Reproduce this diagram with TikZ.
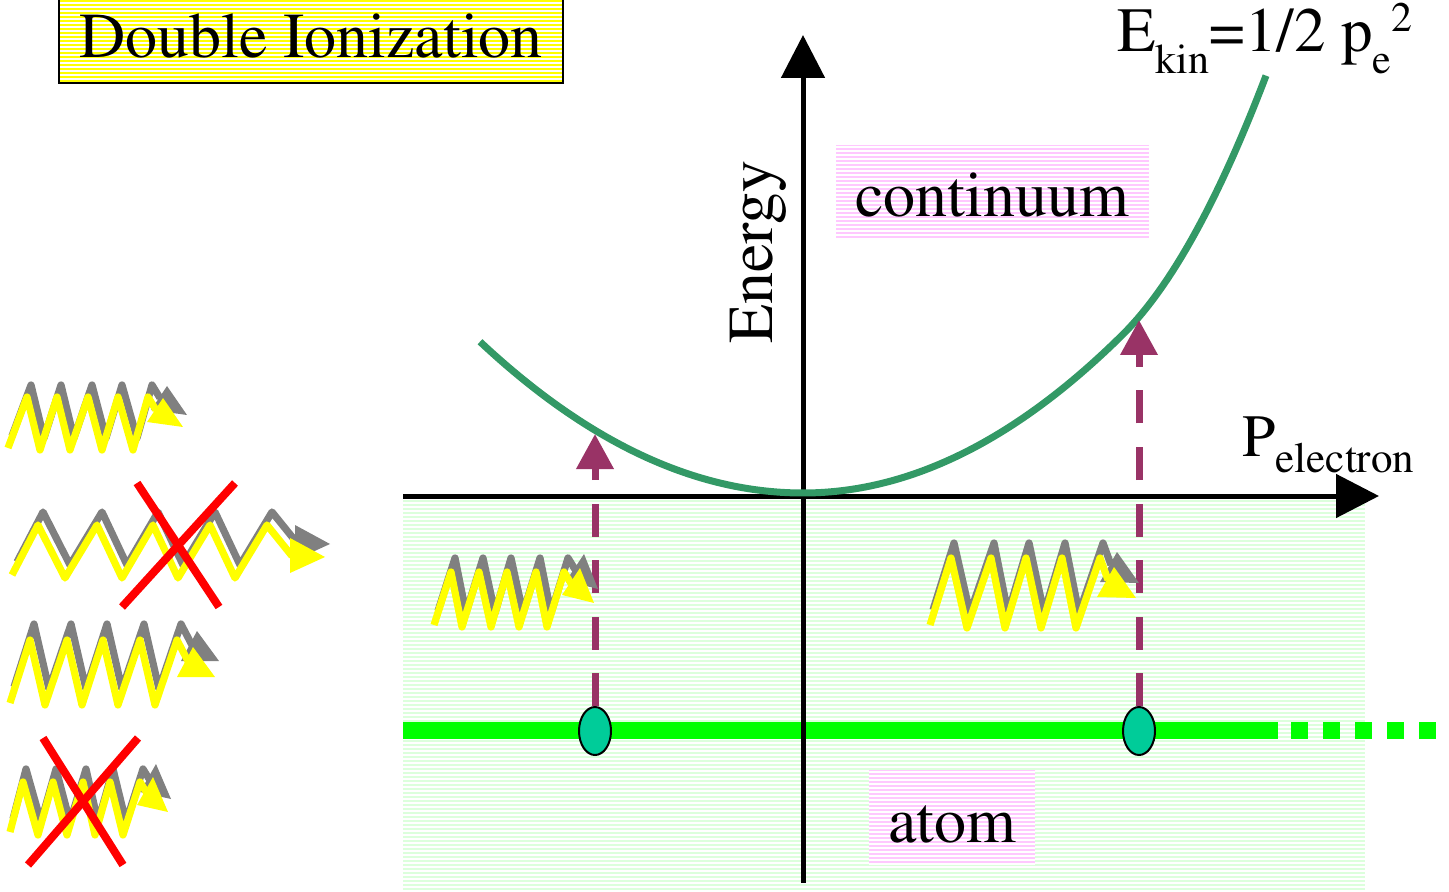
\documentclass[tikz,border=0pt]{standalone}
\usepackage[T1]{fontenc}
\usepackage{times}
\usetikzlibrary{arrows.meta,shapes.geometric}
\definecolor{curvegreen}{RGB}{51,153,102}
\definecolor{arrowpurple}{RGB}{153,51,102}
\definecolor{atomgreen}{RGB}{0,255,0}
\definecolor{ovalteal}{RGB}{0,204,153}
\definecolor{regiongreen}{RGB}{220,255,220}
\definecolor{boxpink}{RGB}{255,200,255}
\definecolor{titleyellow}{RGB}{255,255,0}
\definecolor{photongray}{RGB}{128,128,128}
\definecolor{photonyellow}{RGB}{255,255,0}
\newcommand\stripefill[5]{%
  \fill[#1] (#2,#3) rectangle (#4,#5);
  \pgfmathsetmacro\stripeA{#3+2}%
  \pgfmathsetmacro\stripeB{#3+6}%
  \foreach \yy in {\stripeA,\stripeB,...,#5}{\draw[white,line width=0.6pt] (#2,\yy) -- (#4,\yy);}%
}
\newcommand\photon[3]{%
  \begin{scope}[shift={#3}]
    \draw[photonline,photongray] #1;
    \fill[photongray] #2 -- cycle;
  \end{scope}
  \draw[photonline,photonyellow] #1;
  \fill[photonyellow] #2 -- cycle;
}
\tikzset{
  photonline/.style={line width=3.6pt,line join=round},
  crossline/.style={red,line width=4pt},
  lbl/.style={font=\fontsize{32}{38}\selectfont,inner sep=0pt},
  axisline/.style={line width=2.5pt,-{Triangle[length=21.5pt,width=21.5pt]}},
  atomline/.style={atomgreen,line width=8.5pt},
  dasharrow/.style={arrowpurple,line width=3.5pt,dash pattern=on 16.5pt off 11.75pt,-{Triangle[length=17.5pt,width=18pt]}},
  oval/.style={ellipse,draw,line width=1pt,fill=ovalteal,minimum width=16pt,minimum height=24pt,inner sep=0pt},
}
\begin{document}
\begin{tikzpicture}[x=0.5pt,y=-0.5pt]
\useasboundingbox (0,0) rectangle (1449,892);
% regions
\stripefill{regiongreen}{403}{497}{1365}{890}
\stripefill{boxpink}{836}{145}{1149}{240}
\stripefill{boxpink}{869}{770}{1035}{865}
\stripefill{titleyellow}{59}{-3}{563}{83}
\draw[line width=1pt] (59,-6) rectangle (563,83);
% atom level line
\draw[atomline] (403,730) -- (1278,730);
\draw[atomline,dash pattern=on 8.5pt off 7.5pt] (1291,730) -- (1440,730);
% axes
\coordinate (yb) at (803,883);
\coordinate (yt) at (803,35);
\coordinate (xl) at (403,496);
\coordinate (xr) at (1379,496);
\draw[axisline] (yb) -- (yt);
\draw[axisline] (xl) -- (xr);
% free-electron parabola
\draw[curvegreen,line width=3.5pt,line join=round] plot[domain=-323:463,samples=160] ({803+\x},{493-ifthenelse(\x<0,14.5,15.5)*(\x/100)^2-41.6*(max(0,\x-320)/100)^2});
% bound electrons and excitations
\node[oval] (o1) at (595,731) {};
\node[oval] (o2) at (1139,731) {};
\coordinate (t1) at (595,434);
\coordinate (t2) at (1139,320);
\draw[dasharrow] (o1.north) -- (t1);
\draw[dasharrow] (o2.north) -- (t2);
% photons
\photon{(8,448) -- (27,397) -- (40,450) -- (57,397) -- (70,450) -- (88,397) -- (102,450) -- (118,397) -- (133,450) -- (148,397) -- (156,410)}{(147,422) -- (163,398) -- (183,427)}{(4,-12)}
\photon{(12,575) -- (38,525) -- (65,578) -- (97,525) -- (122,578) -- (153,525) -- (178,578) -- (210,525) -- (235,578) -- (267,525) -- (292,556)}{(290,538) -- (290,573) -- (325,557)}{(5,-13)}
\photon{(10,703) -- (30,640) -- (45,705) -- (67,640) -- (82,705) -- (103,640) -- (118,705) -- (140,640) -- (155,705) -- (177,640) -- (190,665)}{(177,677) -- (193,647) -- (215,677)}{(4,-16)}
\photon{(10,832) -- (23,782) -- (38,835) -- (53,782) -- (67,835) -- (83,782) -- (95,835) -- (110,782) -- (123,835) -- (140,782) -- (148,795)}{(137,805) -- (153,777) -- (168,812)}{(3,-13)}
\photon{(434,625) -- (451,572) -- (462,627) -- (479,572) -- (491,627) -- (507,572) -- (519,627) -- (536,572) -- (547,627) -- (564,572) -- (572,585)}{(562,595) -- (580,568) -- (594,603)}{(4,-14)}
\photon{(930,625) -- (951,558) -- (967,628) -- (991,558) -- (1005,628) -- (1026,558) -- (1041,628) -- (1062,558) -- (1076,628) -- (1100,558) -- (1108,580)}{(1097,597) -- (1114,567) -- (1136,598)}{(3,-15)}
% crosses
\draw[crossline] (137,483) -- (219,607);
\draw[crossline] (235,483) -- (122,607);
\draw[crossline] (43,738) -- (123,865);
\draw[crossline] (138,738) -- (28,865);
% labels
\node[lbl,anchor=base] (title) at (311,58) {Double Ionization};
\node[lbl,anchor=base,rotate=90] (energy) at (772,252) {Energy};
\node[lbl,anchor=base] (cont) at (992,217) {continuum};
\node[lbl,anchor=base] (atomlbl) at (952,842) {atom};
\node[anchor=base west,inner sep=0pt] (ekin) at (1117,52) {\fontsize{31.5}{36}\selectfont E\raisebox{-11pt}{\fontsize{21}{24}\selectfont kin}=1/2 p\raisebox{-11pt}{\fontsize{21}{24}\selectfont e}\raisebox{10pt}{\fontsize{21}{24}\selectfont 2}};
\node[anchor=base west,inner sep=0pt] (pel) at (1242,457) {\fontsize{30}{36}\selectfont P\raisebox{-8pt}{\fontsize{21.5}{26}\selectfont electron}};
\end{tikzpicture}
\end{document}
